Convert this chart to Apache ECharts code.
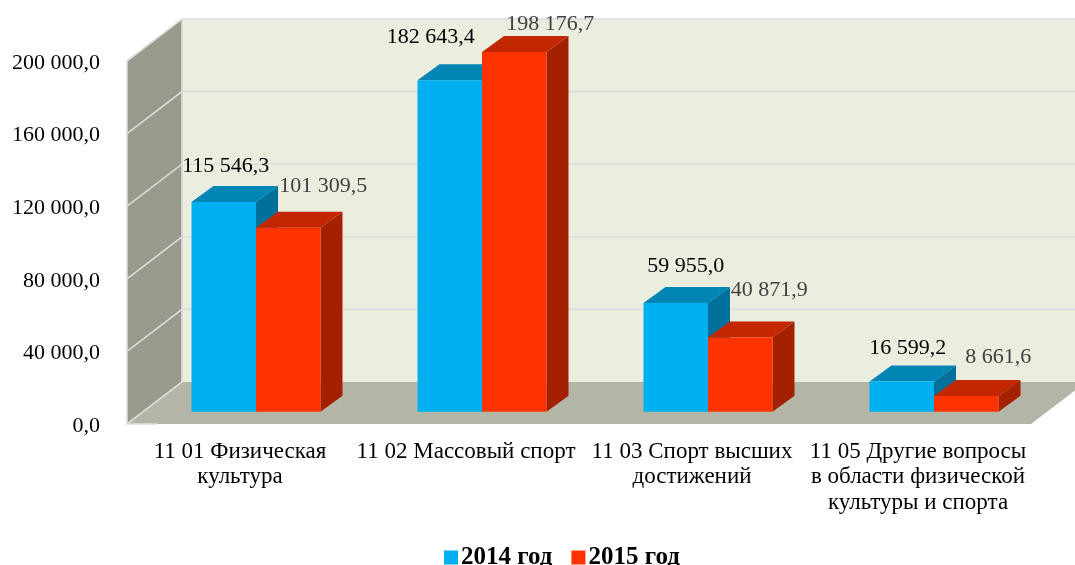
<!DOCTYPE html>
<html><head><meta charset="utf-8">
<style>html,body{margin:0;padding:0;background:#fff}#c{width:1075px;height:565px}</style>
<script src="https://cdn.jsdelivr.net/npm/echarts@6/dist/echarts.min.js"></script>
</head><body><div id="c"></div>
<script>
const categories = ['11 01 Физическая\nкультура','11 02 Массовый спорт','11 03 Спорт высших\nдостижений','11 05 Другие вопросы\nв области физической\nкультуры и спорта'];
const values2014 = [115546.3,182643.4,59955.0,16599.2];
const values2015 = [101309.5,198176.7,40871.9,8661.6];
const labels2014 = ['115 546,3','182 643,4','59 955,0','16 599,2'];
const labels2015 = ['101 309,5','198 176,7','40 871,9','8 661,6'];
const yTicks = [0,40000,80000,120000,160000,200000];
const yTickLabels = ['0,0','40 000,0','80 000,0','120 000,0','160 000,0','200 000,0'];

const labelOffsets2014 = [[2,-36],[-19,-43],[10,-37],[6,-33]];
const labelOffsets2015 = [[35,-42],[36,-28],[29,-47],[32,-39]];
const WALL_DX=55, WALL_DY=-42, BAR_DX=22, BAR_DY=-16, BAR_W=64.5, SHIFT_X=16, SHIFT_Y=-12.3;
const SERIF='"Liberation Serif","Times New Roman",serif';

function poly(points,fill,extra){
  return Object.assign({type:'polygon',shape:{points},style:{fill},silent:true},extra||{});
}
function renderWalls(params,api){
  const cs=params.coordSys, L=cs.x, R=cs.x+cs.width;
  const yAt=v=>api.coord([0,v])[1];
  const y0=yAt(0), yT=yAt(200000);
  const edge={stroke:'#DCDCDE',lineWidth:1.6};
  const kids=[
    poly([[L+WALL_DX,yT+WALL_DY],[R+WALL_DX,yT+WALL_DY],[R+WALL_DX,y0+WALL_DY],[L+WALL_DX,y0+WALL_DY]],'#EBEEDF'),
    poly([[L,yT],[L+WALL_DX,yT+WALL_DY],[L+WALL_DX,y0+WALL_DY],[L,y0]],'#989A8C'),
    poly([[L,y0],[L+WALL_DX,y0+WALL_DY],[R+WALL_DX,y0+WALL_DY],[R,y0]],'#B3B6A7')
  ];
  yTicks.forEach(v=>{
    const y=yAt(v);
    if(v>0) kids.push({type:'polyline',shape:{points:[[L,y],[L+WALL_DX,y+WALL_DY],[R+WALL_DX,y+WALL_DY]]},style:{fill:null,stroke:'#DCDCDE',lineWidth:1.6},silent:true});
  });
  kids.push({type:'polyline',shape:{points:[[L,yT],[L,y0],[L+WALL_DX,y0+WALL_DY],[L+WALL_DX,yT+WALL_DY]]},style:Object.assign({fill:null},edge),silent:true});
  kids.push({type:'line',shape:{x1:L,y1:y0,x2:L+30,y2:y0},style:edge,silent:true});
  return {type:'group',children:kids};
}
function barRenderer(side,cols,texts,offsets,textColor){
  return function(params,api){
    const i=api.value(0), v=api.value(1);
    const p=api.coord([i,v]), b=api.coord([i,0]);
    const mid=p[0]+SHIFT_X;
    const x0=side<0?mid-BAR_W:mid, x1=x0+BAR_W;
    const top=p[1]+SHIFT_Y, base=b[1]+SHIFT_Y;
    const off=offsets[i];
    return {type:'group',children:[
      poly([[x1,top],[x1+BAR_DX,top+BAR_DY],[x1+BAR_DX,base+BAR_DY],[x1,base]],cols[2]),
      poly([[x0,top],[x0+BAR_DX,top+BAR_DY],[x1+BAR_DX,top+BAR_DY],[x1,top]],cols[1]),
      {type:'rect',shape:{x:x0,y:top,width:BAR_W,height:base-top},style:{fill:cols[0]}},
      {type:'text',silent:true,style:{x:(x0+x1)/2+off[0],y:top+off[1],text:texts[i],fill:textColor,font:'22px '+SERIF,align:'center',verticalAlign:'middle'}}
    ]};
  };
}
const chart=echarts.init(document.getElementById('c'),null,{renderer:'canvas'});
chart.setOption({
  animation:false,
  backgroundColor:'#fff',
  grid:{left:127,right:44,top:61,bottom:141,containLabel:false},
  legend:{
    data:['2014 год','2015 год'],
    top:545,left:441,padding:[0,0,0,3],itemWidth:14,itemHeight:14,itemGap:19,icon:'rect',
    textStyle:{fontFamily:SERIF,fontSize:25,fontWeight:'bold',color:'#000',padding:[0,0,0,-2]},
    selectedMode:false
  },
  xAxis:{type:'category',data:categories,
    axisLine:{show:false},axisTick:{show:false},
    axisLabel:{interval:0,margin:15,fontFamily:SERIF,fontSize:23,fontWeight:'normal',color:'#000',lineHeight:25.5,verticalAlign:'top'}},
  yAxis:{type:'value',min:0,max:200000,interval:40000,
    axisLine:{show:false},axisTick:{show:false},splitLine:{show:false},
    axisLabel:{margin:27,fontFamily:SERIF,fontSize:22,color:'#000',verticalAlign:'top',lineHeight:4,formatter:v=>yTickLabels[yTicks.indexOf(v)]}},
  series:[
    {type:'custom',name:'walls',coordinateSystem:'cartesian2d',renderItem:renderWalls,data:[[0,0]],z:1,silent:true},
    {type:'custom',name:'2014 год',coordinateSystem:'cartesian2d',encode:{x:0,y:1},z:2,silent:true,
      itemStyle:{color:'#00B0F0'},
      renderItem:barRenderer(-1,['#00B0F0','#0085B5','#00719B'],labels2014,labelOffsets2014,'#000'),
      data:values2014.map((v,i)=>[i,v])},
    {type:'custom',name:'2015 год',coordinateSystem:'cartesian2d',encode:{x:0,y:1},z:3,silent:true,
      itemStyle:{color:'#FF3300'},
      renderItem:barRenderer(1,['#FF3300','#C22700','#A32100'],labels2015,labelOffsets2015,'#404040'),
      data:values2015.map((v,i)=>[i,v])}
  ]
});
</script></body></html>
